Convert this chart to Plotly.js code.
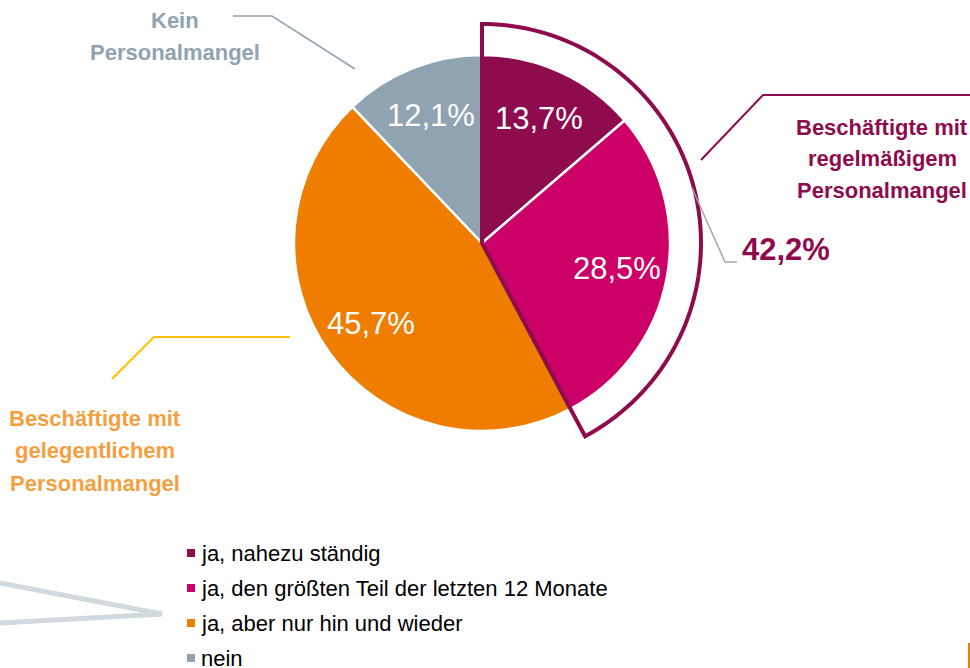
<!DOCTYPE html>
<html>
<head>
<meta charset="utf-8">
<script src="https://cdn.plot.ly/plotly-3.0.1.min.js"></script>
<style>html,body{margin:0;padding:0;background:#fff;}#chart{width:970px;height:668px;}</style>
</head>
<body>
<div id="chart"></div>
<script>
// ---- data ----
const categories = ['ja, nahezu ständig', 'ja, den größten Teil der letzten 12 Monate', 'ja, aber nur hin und wieder', 'nein'];
const values = [13.7, 28.5, 45.7, 12.1];
const valueLabels = ['13,7%', '28,5%', '45,7%', '12,1%'];
const colors = ['#8E0C4E', '#CC0066', '#EF7D00', '#8FA3B0'];
const groupTotalLabel = '42,2%';
const groupRegular = ['Beschäftigte mit', 'regelmäßigem', 'Personalmangel'];
const groupOccasional = ['Beschäftigte mit', 'gelegentlichem', 'Personalmangel'];
const groupNone = ['Kein', 'Personalmangel'];

// ---- layout geometry (pixels) ----
const W = 970, H = 668;
const cx = 482, cy = 243, R = 188, R2 = 219;
const labelRadius = 137;
const font = 'Liberation Sans, Arial, sans-serif';

const total = values.reduce((a, b) => a + b, 0);
const groupAngle = (values[0] + values[1]) / total * 2 * Math.PI;
function pt(r, a) { return [cx + r * Math.sin(a), cy - r * Math.cos(a)]; }

// outline around the "regular" group
let path = 'M ' + cx + ',' + cy;
const steps = 80;
for (let i = 0; i <= steps; i++) {
  const p = pt(R2, groupAngle * i / steps);
  path += ' L ' + p[0].toFixed(2) + ',' + p[1].toFixed(2);
}
path += ' Z';

const shapes = [
  {type: 'path', path: path, xref: 'x', yref: 'y', line: {color: '#8E0C4E', width: 4}, fillcolor: 'rgba(0,0,0,0)', layer: 'above'},
  // leader lines
  {type: 'path', path: 'M 233,16 L 272,16 L 355,69', xref: 'x', yref: 'y', line: {color: '#8FA3B0', width: 1.5}},
  {type: 'path', path: 'M 701,160 L 763,95 L 970,95', xref: 'x', yref: 'y', line: {color: '#8E0C4E', width: 2}},
  {type: 'path', path: 'M 692,188 L 725,262 L 737,262', xref: 'x', yref: 'y', line: {color: '#A6A6A6', width: 1.5}},
  {type: 'path', path: 'M 112,379 L 154,337 L 290,337', xref: 'x', yref: 'y', line: {color: '#FFC000', width: 2}},
  // decorative grey arrow
  {type: 'path', path: 'M 0,583 L 162,614 L 0,623', xref: 'x', yref: 'y', line: {color: '#D0D9DE', width: 5}},
  // orange edge bar
  {type: 'line', x0: 969, x1: 969, y0: 643, y1: 668, xref: 'x', yref: 'y', line: {color: '#EF7D00', width: 2}}
];

const annotations = [];
function multiLine(lines, x, yTop, step, color) {
  lines.forEach((t, i) => annotations.push({text: t, x: x, y: yTop + i * step, xref: 'x', yref: 'y',
    showarrow: false, xanchor: 'center', yanchor: 'middle',
    font: {family: font, size: 22, color: color, weight: 'bold'}}));
}
multiLine(groupNone, 175, 20, 32, '#8FA3B0');
multiLine(groupRegular, 882, 127, 31.5, '#8E0C4E');
multiLine(groupOccasional, 95, 418, 32.5, '#F5A040');
annotations.push({text: groupTotalLabel, x: 740, y: 249, xref: 'x', yref: 'y', showarrow: false, xanchor: 'left', yanchor: 'middle',
  font: {family: font, size: 31, color: '#8E0C4E', weight: 'bold'}});

// slice value labels at each slice's mid-angle
let cum = 0;
values.forEach((v, i) => {
  const mid = (cum + v / 2) / total * 2 * Math.PI;
  cum += v;
  const p = pt(labelRadius, mid);
  annotations.push({text: valueLabels[i], x: p[0], y: p[1], xref: 'x', yref: 'y', showarrow: false,
    xanchor: 'center', yanchor: 'middle', font: {family: font, size: 31, color: '#ffffff'}});
});

// manual legend
const legY0 = 553, legStep = 35;
categories.forEach((c, i) => {
  const y = legY0 + i * legStep;
  shapes.push({type: 'rect', xref: 'x', yref: 'y', x0: 187, x1: 195, y0: y - 4, y1: y + 4, fillcolor: colors[i], line: {width: 0}});
  annotations.push({text: c, x: 199, y: y, xref: 'x', yref: 'y', showarrow: false, xanchor: 'left', yanchor: 'middle',
    font: {family: font, size: 22, color: '#000000'}});
});

const trace = {
  type: 'pie',
  values: values,
  labels: categories,
  textinfo: 'none',
  sort: false,
  direction: 'clockwise',
  rotation: 0,
  marker: {colors: colors, line: {color: '#ffffff', width: 2.5}},
  domain: {x: [(cx - R) / W, (cx + R) / W], y: [(H - cy - R) / H, (H - cy + R) / H]},
  hoverinfo: 'none',
  showlegend: false
};

const layout = {
  width: W, height: H,
  margin: {l: 0, r: 0, t: 0, b: 0},
  paper_bgcolor: '#ffffff', plot_bgcolor: 'rgba(0,0,0,0)',
  xaxis: {range: [0, W], visible: false, fixedrange: true},
  yaxis: {range: [H, 0], visible: false, fixedrange: true},
  showlegend: false,
  shapes: shapes,
  annotations: annotations
};

Plotly.newPlot('chart', [trace], layout, {staticPlot: true, displayModeBar: false});
</script>
</body>
</html>
